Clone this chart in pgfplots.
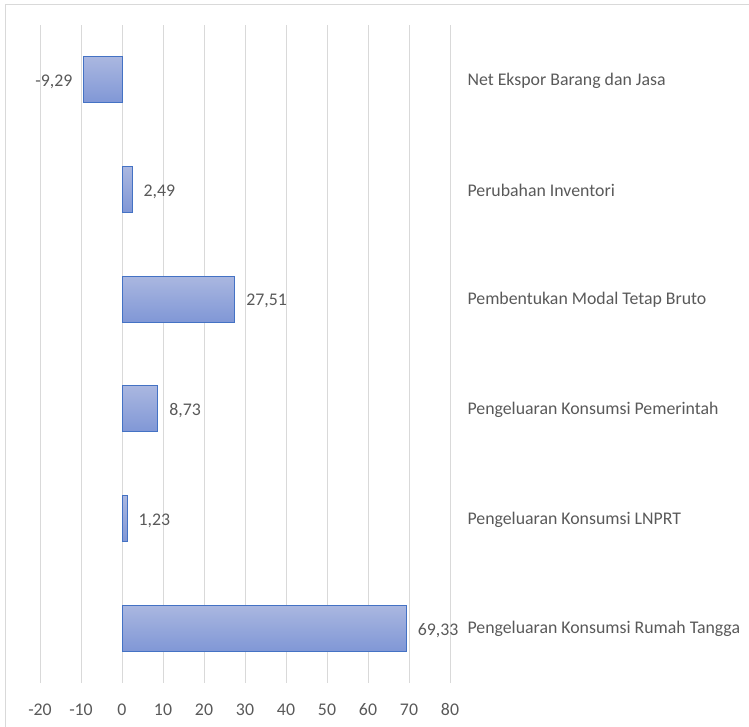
\documentclass[border=0pt]{standalone}
\usepackage{pgfplots}
\pgfplotsset{compat=1.18}
\usepackage{fontspec}
\setmainfont{Carlito}
\definecolor{txt}{RGB}{89,89,89}
\definecolor{grd}{RGB}{217,217,217}
\definecolor{barline}{RGB}{68,114,196}
\definecolor{bartop}{RGB}{170,183,224}
\definecolor{barbot}{RGB}{128,151,214}
\pgfplotsset{
    barlook/.style={draw=barline, line width=1pt, top color=bartop, bottom color=barbot},
    onebar/.style={barlook,
        every node near coord/.append style={anchor=west, xshift=11pt}},
}
\begin{document}
\begin{tikzpicture}
\path[use as bounding box] (0,0) rectangle (749pt,727pt);
% outer chart frame
\draw[grd, line width=1pt] (5pt,-20pt) -- (5pt,722pt) -- (780pt,722pt);
\begin{axis}[
    at={(40pt,44pt)}, anchor=south west,
    scale only axis,
    width=410pt, height=658pt,
    xbar,
    bar width=46pt,
    bar shift=0pt,
    xmin=-20, xmax=80,
    ymin=-0.5, ymax=5.5,
    xtick={-20,-10,...,80},
    ytick={0,...,5},
    yticklabels={Pengeluaran Konsumsi Rumah Tangga,
                 Pengeluaran Konsumsi LNPRT,
                 Pengeluaran Konsumsi Pemerintah,
                 Pembentukan Modal Tetap Bruto,
                 Perubahan Inventori,
                 Net Ekspor Barang dan Jasa},
    yticklabel pos=right,
    yticklabel style={anchor=west, xshift=14pt, yshift=-1pt},
    xmajorgrids=true,
    grid style={grd, line width=1pt},
    axis line style={draw=none},
    major tick length=0pt,
    tick label style={font=\fontsize{17.8}{20}\selectfont, text=txt},
    xticklabel style={yshift=-17pt},
    /pgf/number format/assume math mode=true,
    nodes near coords={\pgfmathprintnumber[fixed, fixed zerofill, precision=2, use comma]{\pgfplotspointmeta}},
    nodes near coords style={font=\fontsize{17.8}{20}\selectfont, text=txt,
        /pgf/number format/assume math mode=true, inner sep=0pt, yshift=-2pt},
]
\addplot[onebar] coordinates {(69.33,0)};
\addplot[onebar] coordinates {(1.23,1)};
\addplot[onebar] coordinates {(8.73,2)};
\addplot[onebar] coordinates {(27.51,3)};
\addplot[onebar] coordinates {(2.49,4)};
\addplot[barlook, every node near coord/.append style={anchor=east, xshift=-11pt}] coordinates {(-9.29,5)};
\end{axis}
\end{tikzpicture}
\end{document}
